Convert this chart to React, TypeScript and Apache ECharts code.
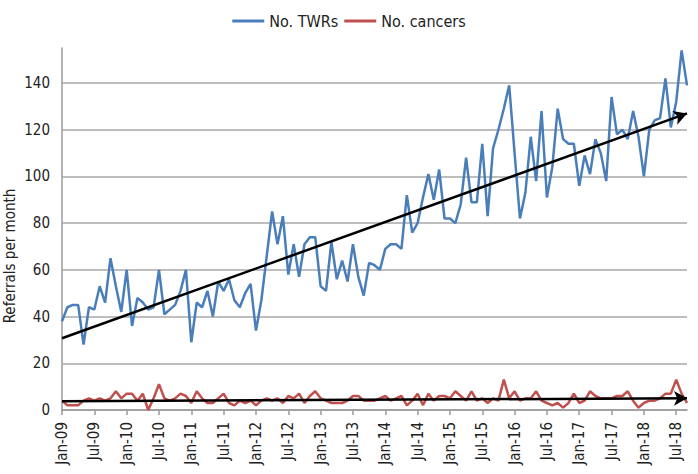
import React, { useEffect, useRef } from "react";
import * as echarts from "echarts";

const monthNames = ["Jan", "Feb", "Mar", "Apr", "May", "Jun", "Jul", "Aug", "Sep", "Oct", "Nov", "Dec"];
const firstYear = 2009;
const monthCount = 117; // Jan-09 .. Sep-18

const categories: string[] = [];
for (let k = 0; k < monthCount; k++) {
  const y = firstYear + Math.floor(k / 12);
  categories.push(`${monthNames[k % 12]}-${String(y).slice(2)}`);
}

const twrs = [
  38, 44, 45, 45, 28, 44, 43, 53, 46, 65, 53, 42, 60, 36, 48, 46, 43, 44, 60, 41,
  43, 45, 51, 60, 29, 46, 44, 51, 40, 55, 51, 56, 47, 44, 50, 54, 34, 47, 66, 85,
  71, 83, 58, 71, 57, 71, 74, 74, 53, 51, 72, 56, 64, 55, 71, 57, 49, 63, 62, 60,
  69, 71, 71, 69, 92, 76, 80, 91, 101, 90, 103, 82, 82, 80, 88, 108, 89, 89, 114, 83,
  112, 120, 129, 139, 110, 82, 93, 117, 98, 128, 91, 104, 129, 116, 114, 114, 96, 109, 101, 116,
  110, 98, 134, 118, 120, 116, 128, 117, 100, 120, 124, 125, 142, 121, 132, 154, 139,
];

const cancers = [
  4, 2, 2, 2, 4, 5, 4, 5, 4, 5, 8, 5, 7, 7, 4, 7, 0, 5, 11, 5,
  4, 5, 7, 6, 3, 8, 5, 3, 3, 5, 7, 3, 2, 4, 3, 4, 2, 4, 5, 4,
  5, 3, 6, 5, 7, 3, 6, 8, 5, 4, 3, 3, 3, 4, 6, 6, 4, 4, 4, 5,
  6, 4, 5, 6, 2, 4, 7, 2, 7, 4, 6, 6, 5, 8, 6, 4, 8, 4, 5, 3,
  5, 4, 13, 5, 8, 4, 5, 5, 8, 4, 3, 2, 3, 1, 3, 7, 3, 4, 8, 6,
  5, 5, 5, 6, 6, 8, 4, 1, 3, 4, 4, 5, 7, 7, 13, 7, 3,
];

// trend lines: [start index, start value, end index, end value]
const twrTrend = [0, 30.7, 115.5, 127];
const cancerTrend = [0, 3.8, 115.5, 5.0];

const yTicks = { min: 0, max: 155, interval: 20 };

const FONT = "'Liberation Sans Narrow', 'DejaVu Sans Condensed', 'Liberation Sans', Arial, sans-serif";

function trendMarkLine(t: number[]) {
  return {
    silent: true,
    symbol: ["none", "arrow"],
    symbolSize: [11, 13],
    label: { show: false },
    lineStyle: { color: "#000", width: 2.5, type: "solid" },
    data: [[{ coord: [t[0], t[1]] }, { coord: [t[2], t[3]] }]],
  };
}

export default function App() {
  const ref = useRef<HTMLDivElement>(null);
  useEffect(() => {
    if (!ref.current) return;
    const chart = echarts.init(ref.current, undefined, { renderer: "svg" });
    chart.setOption({
      animation: false,
      backgroundColor: "#fff",
      textStyle: { fontFamily: FONT },
      legend: {
        top: 8,
        left: "center",
        icon: "rect",
        itemWidth: 32,
        itemHeight: 3,
        itemGap: 6,
        textStyle: { fontSize: 16, color: "#222", fontFamily: FONT },
        data: ["No. TWRs", "No. cancers"],
      },
      grid: { left: 62, right: 11, top: 48, bottom: 64, containLabel: false },
      xAxis: {
        type: "category",
        data: categories,
        boundaryGap: false,
        axisLine: { lineStyle: { color: "#9a9a9a", width: 1.5 } },
        axisTick: { show: true, interval: 5, length: 5, lineStyle: { color: "#9a9a9a", width: 1.5 } },
        axisLabel: {
          interval: 5,
          rotate: 90,
          margin: 12,
          fontSize: 15,
          color: "#222",
          fontFamily: FONT,
        },
        splitLine: { show: false },
      },
      yAxis: {
        type: "value",
        min: yTicks.min,
        max: yTicks.max,
        interval: yTicks.interval,
        axisLine: { show: true, lineStyle: { color: "#9a9a9a", width: 1.5 } },
        axisTick: { show: false },
        axisLabel: {
          fontSize: 15,
          color: "#222",
          margin: 12,
          showMaxLabel: false,
          fontFamily: FONT,
        },
        splitLine: { show: true, showMaxLine: false, lineStyle: { color: "#a8a8a8", width: 1.5 } },
      },
      graphic: [
        {
          type: "text",
          x: 10,
          y: 256,
          rotation: Math.PI / 2,
          style: {
            text: "Referrals per month",
            fontSize: 15,
            fill: "#222",
            fontFamily: FONT,
            align: "center",
            verticalAlign: "middle",
          },
        },
      ],
      series: [
        {
          name: "No. TWRs",
          type: "line",
          data: twrs,
          symbol: "none",
          lineStyle: { color: "#4a7ebb", width: 2.5 },
          itemStyle: { color: "#4a7ebb" },
          z: 2,
          markLine: trendMarkLine(twrTrend),
        },
        {
          name: "No. cancers",
          type: "line",
          data: cancers,
          symbol: "none",
          lineStyle: { color: "#c0504d", width: 2.5 },
          itemStyle: { color: "#c0504d" },
          z: 2,
          markLine: trendMarkLine(cancerTrend),
        },
      ],
    });
    return () => chart.dispose();
  }, []);
  return (
    <div
      ref={ref}
      style={{ position: "fixed", left: 0, top: 0, width: 698, height: 474 }}
    />
  );
}
